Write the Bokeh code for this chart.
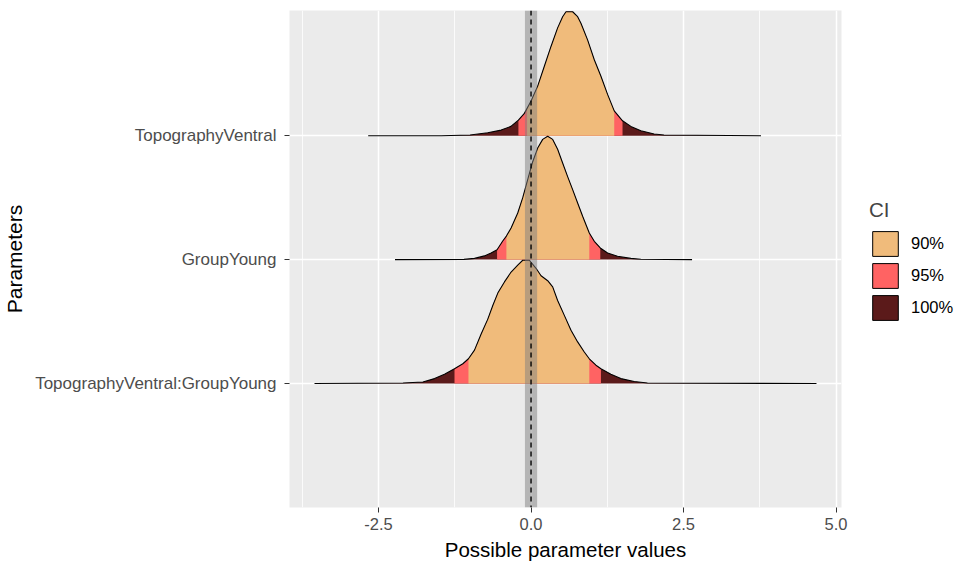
import numpy as np
from bokeh.plotting import figure
from bokeh.layouts import row
from bokeh.models import Range1d, FixedTicker, Legend, LegendItem, BoxAnnotation, Span
from bokeh.embed import file_html
from bokeh.resources import INLINE

# ---- data ----
parameters = ["TopographyVentral:GroupYoung", "GroupYoung", "TopographyVentral"]  # bottom -> top

tv_x = [-2.67, -1.47, -1.0, -0.71, -0.49, -0.33, -0.207, -0.109, 0.0, 0.109, 0.218, 0.327, 0.436,
        0.518, 0.573, 0.682, 0.764, 0.818, 0.927, 1.037, 1.146, 1.255, 1.364, 1.50, 1.637, 1.80,
        2.018, 2.18, 3.77]
tv_h = [0.0, 0.0, 0.006, 0.024, 0.045, 0.075, 0.125, 0.18, 0.28, 0.40, 0.56, 0.72, 0.87,
        0.96, 1.0, 1.0, 0.96, 0.907, 0.773, 0.613, 0.48, 0.333, 0.20, 0.12, 0.075, 0.04,
        0.013, 0.005, 0.0]

gy_x = [-2.23, -1.1, -0.927, -0.764, -0.655, -0.557, -0.464, -0.404, -0.327, -0.218, -0.136,
        -0.055, 0.027, 0.109, 0.191, 0.273, 0.355, 0.436, 0.518, 0.600, 0.682, 0.764, 0.846,
        0.955, 1.037, 1.135, 1.255, 1.418, 1.637, 1.80, 2.64]
gy_h = [0.0, 0.002, 0.01, 0.03, 0.054, 0.08, 0.15, 0.19, 0.255, 0.376, 0.50,
        0.645, 0.79, 0.90, 0.97, 0.995, 0.97, 0.89, 0.78, 0.67, 0.565, 0.457, 0.35,
        0.215, 0.148, 0.094, 0.054, 0.027, 0.01, 0.003, 0.0]

tvgy_x = [-3.55, -2.10, -1.773, -1.582, -1.419, -1.255, -1.118, -1.026, -0.927, -0.818, -0.709,
          -0.627, -0.545, -0.436, -0.327, -0.218, -0.136, -0.027, 0.082, 0.164, 0.273, 0.355,
          0.436, 0.546, 0.655, 0.764, 0.873, 0.955, 1.064, 1.146, 1.309, 1.473, 1.691, 1.909, 4.68]
tvgy_h = [0.0, 0.004, 0.013, 0.04, 0.075, 0.12, 0.16, 0.20, 0.27, 0.40, 0.52,
          0.63, 0.73, 0.82, 0.90, 0.955, 0.995, 0.995, 0.93, 0.87, 0.83, 0.78,
          0.67, 0.55, 0.43, 0.336, 0.255, 0.20, 0.148, 0.12, 0.075, 0.04, 0.016, 0.005, 0.0]

dens_x = [tvgy_x, gy_x, tv_x]
dens_h = [tvgy_h, gy_h, tv_h]

ci90_lo = [-1.026, -0.404, -0.065]
ci90_hi = [0.955, 0.955, 1.364]
ci95_lo = [-1.255, -0.557, -0.207]
ci95_hi = [1.146, 1.135, 1.50]

rope = [-0.1, 0.1]
x_ticks = [-2.5, 0.0, 2.5, 5.0]
x_tick_labels = ["-2.5", "0.0", "2.5", "5.0"]
x_minor = [-3.75, -1.25, 1.25, 3.75]
ci_labels = ["90%", "95%", "100%"]
ci_colors = ["#F0BB7B", "#FF6363", "#5B1A1A"]

FONT = "Liberation Sans"

p = figure(width=860, height=563, output_backend="svg", toolbar_location=None,
           x_range=Range1d(-3.96, 5.09), y_range=Range1d(0, 4.01),
           min_border_left=288, min_border_right=19, min_border_top=10, min_border_bottom=55)
p.background_fill_color = "#EBEBEB"
p.border_fill_color = "white"
p.outline_line_color = None


def segment(xs, hs, lo, hi, base):
    xs = np.asarray(xs, dtype=float)
    hs = np.asarray(hs, dtype=float)
    inner = (xs > lo) & (xs < hi)
    px = np.concatenate([[lo], xs[inner], [hi]])
    ph = np.interp(px, xs, hs)
    return (list(np.concatenate([px, [hi, lo]])),
            list(np.concatenate([base + ph, [base, base]])))


# draw top rows first so lower ridges overlap
for i in reversed(range(len(parameters))):
    base = i + 1
    xs = dens_x[i]
    hs = dens_h[i]
    fx, fy = segment(xs, hs, xs[0], xs[-1], base)
    p.patch(fx, fy, fill_color=ci_colors[2], line_color=None)
    fx, fy = segment(xs, hs, ci95_lo[i], ci95_hi[i], base)
    p.patch(fx, fy, fill_color=ci_colors[1], line_color=None)
    fx, fy = segment(xs, hs, ci90_lo[i], ci90_hi[i], base)
    p.patch(fx, fy, fill_color=ci_colors[0], line_color=None)
    p.line(xs, [base + h for h in hs], line_color="black", line_width=1.1)

# ROPE band and zero line
p.add_layout(BoxAnnotation(left=rope[0], right=rope[1], fill_color="#808080", fill_alpha=0.5,
                           line_color=None))
p.add_layout(Span(location=0, dimension="height", line_color="black", line_width=1.4,
                  line_dash="5 4"))

# axes
p.xaxis.ticker = FixedTicker(ticks=x_ticks, minor_ticks=x_minor)
p.xaxis.major_label_overrides = {t: l for t, l in zip(x_ticks, x_tick_labels)}
p.yaxis.ticker = FixedTicker(ticks=[1, 2, 3])
p.yaxis.major_label_overrides = {i + 1: n for i, n in enumerate(parameters)}

for ax in (p.xaxis, p.yaxis):
    ax.axis_line_color = None
    ax.major_tick_line_color = "#333333"
    ax.major_tick_out = 5
    ax.major_tick_in = 0
    ax.minor_tick_out = 0
    ax.minor_tick_in = 0
    ax.major_label_text_font = FONT
    ax.major_label_text_color = "#4D4D4D"
    ax.axis_label_text_font = FONT
    ax.axis_label_text_font_style = "normal"
    ax.axis_label_text_color = "black"

p.xaxis.major_label_text_font_size = "16.5px"
p.yaxis.major_label_text_font_size = "17px"
p.xaxis.axis_label_text_font_size = "20.5px"
p.yaxis.axis_label_text_font_size = "21px"
p.xaxis.axis_label = "Possible parameter values"
p.yaxis.axis_label = "Parameters"
p.xaxis.major_label_standoff = 5
p.xaxis.axis_label_standoff = 5
p.yaxis.major_label_standoff = 8
p.yaxis.axis_label_standoff = 6

# grid
p.xgrid.grid_line_color = "white"
p.xgrid.grid_line_width = 1.5
p.xgrid.minor_grid_line_color = "white"
p.xgrid.minor_grid_line_width = 0.8
p.ygrid.ticker = FixedTicker(ticks=[1, 2, 3])
p.ygrid.grid_line_color = "white"
p.ygrid.grid_line_width = 1.5

# legend in its own small panel to the right
lg = figure(width=99, height=563, output_backend="svg", toolbar_location=None,
            x_range=Range1d(0, 1), y_range=Range1d(0, 1),
            min_border=0, min_border_left=0, min_border_right=0,
            min_border_top=0, min_border_bottom=0)
lg.outline_line_color = None
lg.axis.visible = False
lg.grid.visible = False
lg.background_fill_color = "white"

# proxy glyphs kept outside the visible range; they only feed the legend keys
proxies = []
for c in ci_colors:
    r = lg.quad(left=[5], right=[6], top=[6], bottom=[5], fill_color=c, line_color="black",
                line_width=1)
    proxies.append(r)
legend = Legend(items=[LegendItem(label=l, renderers=[r]) for l, r in zip(ci_labels, proxies)],
                title="CI", location=(9, 184), orientation="vertical")
legend.glyph_width = 32
legend.glyph_height = 31
legend.label_height = 31
legend.spacing = 1
legend.label_standoff = 10
legend.padding = 0
legend.margin = 0
legend.border_line_color = None
legend.background_fill_alpha = 0
legend.title_text_font = FONT
legend.title_text_font_size = "20.5px"
legend.title_text_font_style = "normal"
legend.title_standoff = 6
legend.label_text_font = FONT
legend.label_text_font_size = "16.5px"
legend.label_text_color = "black"
lg.add_layout(legend, "center")

layout = row(p, lg, spacing=0)
open("out.html", "w").write(file_html(layout, INLINE))
